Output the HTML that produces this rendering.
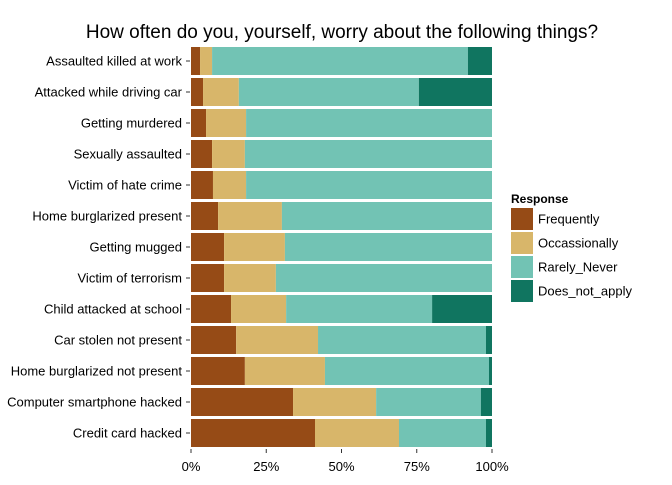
<!DOCTYPE html>
<html><head><meta charset="utf-8"><style>
body{margin:0;background:#fff;font-family:"Liberation Sans",Arial,sans-serif}
svg text{font-family:"Liberation Sans",Arial,sans-serif}
</style></head><body>
<svg id="c" width="672" height="480" xmlns="http://www.w3.org/2000/svg">
<text x="342" y="38" text-anchor="middle" font-size="19" fill="#000">How often do you, yourself, worry about the following things?</text>
<g id="bars"></g><g id="yax"></g><g id="xax"></g>
<g>
<text x="511" y="203" font-size="12" font-weight="bold">Response</text>
<g id="leg"></g>
</g>
</svg>
<script>
const categories=["Assaulted killed at work","Attacked while driving car","Getting murdered","Sexually assaulted","Victim of hate crime","Home burglarized present","Getting mugged","Victim of terrorism","Child attacked at school","Car stolen not present","Home burglarized not present","Computer smartphone hacked","Credit card hacked"];
const frequently=[3.0,4.0,5.0,7.0,7.3,9.0,11.0,11.0,13.3,15.0,17.9,33.9,41.2];
const occasionally=[4.0,11.9,13.3,10.9,11.0,21.2,20.2,17.2,18.3,27.2,26.6,27.6,27.9];
const rarelyNever=[85.0,59.8,81.7,82.1,81.7,69.8,68.8,71.8,48.5,55.8,54.5,34.8,28.9];
const doesNotApply=[8.0,24.3,0,0,0,0,0,0,19.9,2.0,1.0,3.7,2.0];
const series=["Frequently","Occassionally","Rarely_Never","Does_not_apply"];
const xTicks=[0,25,50,75,100];
const colors=["#964B16","#D8B66A","#72C3B4","#107560"];
const NS="http://www.w3.org/2000/svg";
const x0=191,x1=492,y0=47,pitch=31,bh=28;
const xs=v=>x0+(x1-x0)*v/100;
const ys=i=>y0+i*pitch;
function mk(t,a){const e=document.createElementNS(NS,t);for(const k in a)e.setAttribute(k,a[k]);return e;}
const data=[frequently,occasionally,rarelyNever,doesNotApply];
const bars=document.getElementById('bars'),yax=document.getElementById('yax'),xax=document.getElementById('xax'),leg=document.getElementById('leg');
categories.forEach((c,i)=>{
  let cum=0;
  data.forEach((s,j)=>{
    const v=s[i]; if(v<=0)return;
    const r=mk('rect',{x:xs(cum),y:ys(i),width:xs(cum+v)-xs(cum),height:bh,fill:colors[j]});
    
    
    bars.appendChild(r);cum+=v;
  });
  const t=mk('text',{x:182,y:ys(i)+bh/2+4.5,'text-anchor':'end','font-size':13,fill:'#000'});
  t.textContent=c;
  
  
  yax.appendChild(t);
  const tk=mk('line',{x1:186,x2:190,y1:ys(i)+bh/2,y2:ys(i)+bh/2,stroke:'#333','stroke-width':1});
  
  
  yax.appendChild(tk);
});
xTicks.forEach(v=>{
  const tk=mk('line',{x1:xs(v),x2:xs(v),y1:449,y2:453,stroke:'#333','stroke-width':1});
  
  
  xax.appendChild(tk);
  const t=mk('text',{x:xs(v),y:471,'text-anchor':'middle','font-size':13,fill:'#000'});
  t.textContent=v+'%';
  
  
  xax.appendChild(t);
});
series.forEach((s,j)=>{
  const r=mk('rect',{x:511,y:208+j*24,width:22,height:22,fill:colors[j]});
  
  
  leg.appendChild(r);
  const t=mk('text',{x:538,y:223.5+j*24,'font-size':13,fill:'#000'});
  t.textContent=s;
  
  
  leg.appendChild(t);
});
</script>
</body></html>
